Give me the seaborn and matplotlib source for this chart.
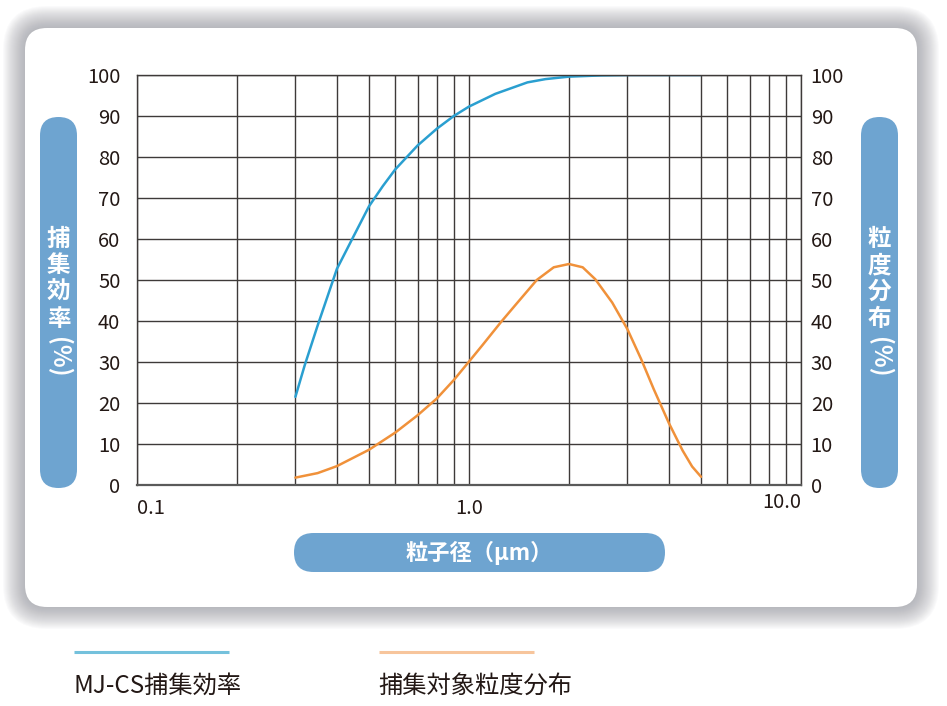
import numpy as np
import pandas as pd
import matplotlib
matplotlib.use('Agg')
import matplotlib.pyplot as plt
import seaborn as sns
from matplotlib.patches import FancyBboxPatch
from matplotlib.ticker import FixedLocator, NullFormatter
from matplotlib.transforms import ScaledTranslation

# capture efficiency curve (left axis)
eff_size = [0.30, 0.32, 0.35, 0.40, 0.45, 0.50, 0.55, 0.60, 0.70, 0.80, 0.90, 1.0,
            1.2, 1.5, 1.7, 2.0, 2.5, 3.0, 5.0]
eff_val = [21.5, 29.2, 38.9, 52.7, 60.8, 68.0, 72.9, 77.0, 82.8, 86.9, 90.0, 92.3,
           95.4, 98.2, 99.0, 99.6, 99.9, 100, 100]

# particle size distribution (right axis)
dist_size = [0.30, 0.35, 0.40, 0.50, 0.60, 0.70, 0.80, 0.90, 1.0, 1.1, 1.25, 1.4, 1.6,
             1.8, 2.0, 2.2, 2.4, 2.7, 3.0, 3.3, 3.6, 4.0, 4.4, 4.7, 5.0]
dist_val = [1.8, 2.9, 4.6, 8.6, 12.8, 17.0, 21.1, 25.6, 30.1, 34.2, 39.8, 44.5, 50.0,
            53.1, 53.9, 53.1, 50.2, 44.5, 38.0, 30.7, 23.4, 15.1, 8.4, 4.5, 2.0]

x_ticks = [0.1, 1, 10]
x_ticklabels = ['0.1', '1.0', '10.0']
y_ticks = list(range(0, 101, 10))
left_title = ['捕', '集', '効', '率']
right_title = ['粒', '度', '分', '布']
x_title = '粒子径（μm）'
legend_labels = ['MJ-CS捕集効率', '捕集対象粒度分布']

blue = '#2a9fd0'
orange = '#f0913a'
pill = '#6ea4d0'
ink = '#231815'
gridc = '#3e3a39'

sns.set_style('white')
plt.rcParams['font.family'] = ['Noto Sans CJK JP', 'DejaVu Sans']

W, H = 947, 706
fig = plt.figure(figsize=(W / 100, H / 100), dpi=100)
fig.patch.set_facecolor('white')

# background layer in pixel coords
bg = fig.add_axes([0, 0, 1, 1])
bg.set_xlim(0, W)
bg.set_ylim(H, 0)
bg.axis('off')
bg.set_zorder(0)

# card shadow
for k in range(22, 0, -1):
    bg.add_patch(FancyBboxPatch((25 - k, 28 - k), 892 + 2 * k, 579 + 2 * k,
                                boxstyle='round,pad=0,rounding_size=%d' % (22 + k),
                                fc='#8a8c94', ec='none', alpha=0.035))
bg.add_patch(FancyBboxPatch((25, 28), 892, 579, boxstyle='round,pad=0,rounding_size=22',
                            fc='white', ec='none'))

# side pills
for px, chars in [(40, left_title), (861, right_title)]:
    bg.add_patch(FancyBboxPatch((px, 117), 37, 371, boxstyle='round,pad=0,rounding_size=18.5',
                                fc=pill, ec='none'))
    cx = px + 18.5
    for i, ch in enumerate(chars):
        bg.text(cx, 239 + i * 26.5, ch, ha='center', va='center', color='white',
                fontsize=17, fontweight='bold')
    bg.text(cx, 357, '(%)', ha='center', va='center', color='white', fontsize=17,
            fontweight='bold', rotation=-90)

# bottom pill
bg.add_patch(FancyBboxPatch((294, 533), 371, 39, boxstyle='round,pad=0,rounding_size=19.5',
                            fc=pill, ec='none'))
bg.text(479, 553, x_title, ha='center', va='center', color='white', fontsize=16, fontweight='bold')

# legend below card
for lx, col, lab in [(74, '#74c1dc', legend_labels[0]), (379, '#f7c59c', legend_labels[1])]:
    bg.plot([lx, lx + 155], [652, 652], color=col, lw=2.2, solid_capstyle='butt')
    bg.text(lx - 1, 686, lab, ha='left', va='center', color=ink, fontsize=17.5)

# main chart
ax = fig.add_axes([137 / W, 1 - 485 / H, 664 / W, 410 / H])
ax.set_zorder(2)
ax.patch.set_alpha(0)
sns.lineplot(x=eff_size, y=eff_val, ax=ax, color=blue, lw=1.8, sort=True, legend=False)
ax.set_xscale('log')
ax.set_xlim(0.1, 10)
ax.set_ylim(0, 100)
ax.xaxis.set_major_locator(FixedLocator(x_ticks))
ax.xaxis.set_minor_locator(FixedLocator([d * m for d in (0.1, 1) for m in range(2, 10)]))
ax.xaxis.set_minor_formatter(NullFormatter())
ax.set_xticklabels(x_ticklabels)
ax.set_yticks(y_ticks)
ax.grid(which='both', axis='x', color=gridc, lw=1.0)
ax.grid(which='major', axis='y', color=gridc, lw=1.0)
ax.tick_params(which='both', length=0)
ax.tick_params(axis='y', pad=12, labelsize=14.5, labelcolor=ink)
ax.tick_params(axis='x', pad=9, labelsize=14.5, labelcolor=ink)
ax.set_xlabel('')
ax.set_ylabel('')
for s in ax.spines.values():
    s.set_color(gridc)
    s.set_linewidth(1.0)
ax.spines['bottom'].set_color('#5a5a5a')
ax.spines['bottom'].set_linewidth(1.6)

ax2 = ax.twinx()
sns.lineplot(x=dist_size, y=dist_val, ax=ax2, color=orange, lw=1.8, sort=True, legend=False)
ax2.set_ylim(0, 100)
ax2.set_yticks(y_ticks)
ax2.tick_params(length=0, pad=7, labelsize=14.5, labelcolor=ink)
ax2.set_ylabel('')
for s in ax2.spines.values():
    s.set_visible(False)

xl = ax.get_xticklabels()
xl[0].set_ha('left')
xl[2].set_ha('right')
xl[2].set_transform(xl[2].get_transform() + ScaledTranslation(0, 4 / 72, fig.dpi_scale_trans))

fig.savefig('out.png', dpi=100, facecolor='white')
